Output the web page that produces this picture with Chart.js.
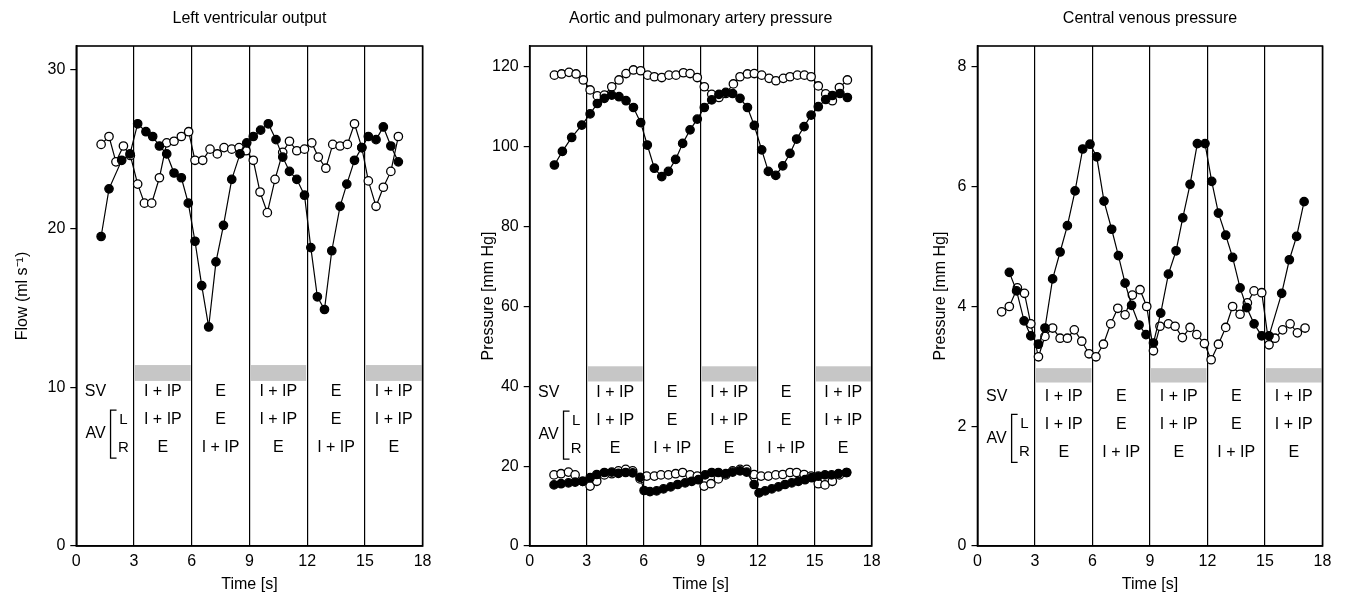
<!DOCTYPE html>
<html>
<head>
<meta charset="utf-8">
<script src="https://cdn.jsdelivr.net/npm/chart.js@4.4.0/dist/chart.umd.min.js"></script>
<style>
  body { margin: 0; background: #fff; }
  #wrap { position: relative; width: 1345px; height: 604px; }
  canvas { position: absolute; top: 0; }
</style>
</head>
<body>
<div id="wrap">
  <canvas id="lvo" width="448" height="604" style="left:0px"></canvas>
  <canvas id="art" width="448" height="604" style="left:448px"></canvas>
  <canvas id="cvp" width="449" height="604" style="left:896px"></canvas>
</div>
<script>
// ---- data ----
const timeTicks = [0, 3, 6, 9, 12, 15, 18];
const flowTicks = [0, 10, 20, 30];
const pressureTicks = [0, 20, 40, 60, 80, 100, 120];
const cvpTicks = [0, 2, 4, 6, 8];

// ventilation phases (s) and their labels
const phaseBounds = [3, 6, 9, 12, 15, 18];
const svBands = [[3, 6], [9, 12], [15, 18]];
const svRow = ['I + IP', 'E', 'I + IP', 'E', 'I + IP'];
const avLRow = ['I + IP', 'E', 'I + IP', 'E', 'I + IP'];
const avRRow = ['E', 'I + IP', 'E', 'I + IP', 'E'];

// left ventricular output (ml/s)
const flowFilledT = [1.29, 1.70, 2.36, 2.79, 3.19, 3.62, 3.97, 4.32, 4.70, 5.08, 5.46, 5.82, 6.17, 6.52, 6.88, 7.26, 7.65, 8.08, 8.51, 8.86, 9.20, 9.58, 9.98, 10.38, 10.73, 11.08, 11.46, 11.86, 12.19, 12.53, 12.90, 13.28, 13.71, 14.06, 14.46, 14.84, 15.18, 15.58, 15.96, 16.35, 16.74];
const flowFilledV = [19.5, 22.5, 24.3, 24.7, 26.6, 26.1, 25.8, 25.2, 24.7, 23.5, 23.2, 21.6, 19.2, 16.4, 13.8, 17.9, 20.2, 23.1, 24.7, 25.4, 25.8, 26.2, 26.6, 25.6, 24.5, 23.6, 23.1, 22.1, 18.8, 15.7, 14.9, 18.6, 21.4, 22.8, 24.3, 25.1, 25.8, 25.6, 26.4, 25.2, 24.2];
const flowOpenT = [1.29, 1.70, 2.06, 2.45, 2.81, 3.19, 3.54, 3.92, 4.32, 4.70, 5.08, 5.46, 5.84, 6.17, 6.57, 6.95, 7.33, 7.68, 8.08, 8.46, 8.82, 9.20, 9.55, 9.93, 10.33, 10.73, 11.08, 11.46, 11.86, 12.24, 12.58, 12.97, 13.33, 13.71, 14.09, 14.46, 14.84, 15.18, 15.58, 15.96, 16.35, 16.74];
const flowOpenV = [25.3, 25.8, 24.2, 25.2, 24.6, 22.8, 21.6, 21.6, 23.2, 25.4, 25.5, 25.8, 26.1, 24.3, 24.3, 25.0, 24.7, 25.1, 25.0, 25.1, 24.9, 24.3, 22.3, 21.0, 23.1, 24.8, 25.5, 24.9, 25.0, 25.4, 24.5, 23.8, 25.3, 25.2, 25.3, 26.6, 25.1, 23.0, 21.4, 22.6, 23.6, 25.8];

// aortic and pulmonary artery pressure (mm Hg)
const upperOpenT = [1.30, 1.68, 2.07, 2.44, 2.82, 3.18, 3.56, 3.93, 4.32, 4.70, 5.07, 5.46, 5.84, 6.21, 6.56, 6.95, 7.33, 7.70, 8.09, 8.44, 8.82, 9.19, 9.58, 9.96, 10.32, 10.72, 11.07, 11.46, 11.82, 12.21, 12.60, 12.96, 13.35, 13.70, 14.09, 14.46, 14.81, 15.19, 15.58, 15.93, 16.30, 16.72];
const upperOpenV = [117.9, 118.2, 118.6, 118.2, 116.7, 114.2, 112.7, 112.9, 115.0, 116.7, 118.3, 119.2, 119.0, 117.9, 117.5, 117.3, 117.9, 117.9, 118.5, 118.3, 117.3, 115.0, 113.1, 112.3, 113.3, 115.7, 117.5, 118.2, 118.3, 117.9, 117.1, 116.5, 117.1, 117.5, 117.9, 117.9, 117.5, 115.2, 113.2, 111.5, 114.8, 116.7];
const upperFilledT = [1.30, 1.72, 2.21, 2.74, 3.18, 3.56, 3.93, 4.32, 4.70, 5.07, 5.46, 5.84, 6.19, 6.56, 6.95, 7.30, 7.68, 8.05, 8.44, 8.82, 9.19, 9.58, 9.96, 10.32, 10.68, 11.07, 11.46, 11.82, 12.21, 12.56, 12.95, 13.32, 13.70, 14.05, 14.44, 14.81, 15.19, 15.58, 15.93, 16.33, 16.72];
const upperFilledV = [95.4, 98.8, 102.3, 105.4, 108.2, 110.8, 112.1, 112.9, 112.5, 111.5, 109.8, 106.0, 100.4, 94.6, 92.5, 93.8, 96.8, 100.8, 104.2, 106.9, 109.8, 111.7, 113.1, 113.6, 113.3, 112.1, 109.8, 105.3, 99.2, 93.8, 92.8, 95.2, 98.3, 101.9, 105.0, 107.9, 110.0, 111.8, 112.8, 113.3, 112.3];
const lowerOpenT = [1.28, 1.65, 2.04, 2.39, 2.79, 3.18, 3.53, 3.93, 4.32, 4.67, 5.05, 5.42, 5.81, 6.16, 6.56, 6.91, 7.30, 7.68, 8.05, 8.44, 8.82, 9.18, 9.54, 9.93, 10.32, 10.68, 11.07, 11.42, 11.81, 12.18, 12.56, 12.95, 13.32, 13.70, 14.05, 14.44, 14.81, 15.19, 15.54, 15.93, 16.30, 16.68];
const lowerOpenV = [17.8, 18.1, 18.5, 17.8, 16.2, 15.0, 16.2, 17.8, 18.1, 18.8, 19.2, 18.8, 16.8, 17.5, 17.5, 17.8, 17.8, 18.1, 18.4, 17.8, 17.5, 15.0, 15.6, 16.8, 17.8, 18.8, 19.2, 19.2, 17.9, 17.5, 17.5, 17.8, 17.9, 18.4, 18.4, 17.9, 17.5, 15.6, 15.3, 16.2, 17.8, 18.4];
const lowerFilledT = [1.28, 1.65, 2.04, 2.39, 2.79, 3.18, 3.53, 3.93, 4.32, 4.67, 5.05, 5.42, 5.81, 6.02, 6.33, 6.68, 7.04, 7.42, 7.79, 8.18, 8.53, 8.88, 9.23, 9.58, 9.93, 10.32, 10.68, 11.07, 11.42, 11.81, 12.07, 12.39, 12.74, 13.09, 13.44, 13.79, 14.14, 14.49, 14.84, 15.19, 15.54, 15.89, 16.25, 16.68];
const lowerFilledV = [15.3, 15.6, 15.8, 16.0, 16.2, 17.1, 17.9, 18.4, 18.5, 18.2, 18.4, 18.3, 17.2, 13.9, 13.6, 13.8, 14.3, 14.8, 15.4, 15.8, 16.2, 16.6, 17.8, 18.4, 18.4, 18.1, 18.5, 18.8, 18.5, 15.4, 13.3, 13.8, 14.3, 14.8, 15.4, 15.8, 16.2, 16.6, 17.1, 17.5, 17.8, 17.8, 18.1, 18.4];

// central venous pressure (mm Hg)
const cvpFilledT = [1.66, 2.04, 2.43, 2.78, 3.18, 3.52, 3.92, 4.31, 4.69, 5.09, 5.49, 5.87, 6.22, 6.60, 7.00, 7.35, 7.70, 8.04, 8.43, 8.79, 9.18, 9.56, 9.96, 10.36, 10.71, 11.09, 11.47, 11.87, 12.22, 12.57, 12.95, 13.31, 13.70, 14.05, 14.43, 14.83, 15.21, 15.87, 16.27, 16.65, 17.04];
const cvpFilledV = [4.57, 4.26, 3.76, 3.51, 3.37, 3.64, 4.46, 4.91, 5.35, 5.93, 6.63, 6.71, 6.50, 5.76, 5.29, 4.85, 4.39, 4.02, 3.69, 3.53, 3.39, 3.89, 4.54, 4.93, 5.48, 6.04, 6.72, 6.72, 6.09, 5.56, 5.19, 4.82, 4.31, 3.98, 3.71, 3.51, 3.51, 4.22, 4.78, 5.17, 5.75];
const cvpOpenT = [1.26, 1.66, 2.08, 2.45, 2.78, 3.18, 3.52, 3.92, 4.31, 4.69, 5.05, 5.44, 5.82, 6.18, 6.57, 6.95, 7.32, 7.70, 8.08, 8.48, 8.83, 9.18, 9.52, 9.96, 10.31, 10.69, 11.09, 11.44, 11.84, 12.19, 12.57, 12.95, 13.31, 13.70, 14.08, 14.43, 14.83, 15.21, 15.52, 15.92, 16.31, 16.69, 17.09];
const cvpOpenV = [3.91, 4.00, 4.31, 4.22, 3.71, 3.16, 3.50, 3.64, 3.47, 3.47, 3.61, 3.42, 3.21, 3.16, 3.37, 3.71, 3.97, 3.86, 4.19, 4.28, 4.00, 3.26, 3.67, 3.71, 3.67, 3.48, 3.65, 3.53, 3.38, 3.11, 3.37, 3.65, 4.00, 3.87, 4.06, 4.26, 4.23, 3.36, 3.47, 3.61, 3.71, 3.56, 3.64];

// ---- drawing ----
const FONT = '"Liberation Sans", Arial, Helvetica, sans-serif';
Chart.defaults.font.family = FONT;
Chart.defaults.font.size = 16;
Chart.defaults.color = '#000';

const pts = (t, v) => t.map((x, i) => ({ x, y: v[i] }));

function series(t, v, filled) {
  return {
    data: pts(t, v),
    borderColor: '#000',
    borderWidth: 1.2,
    pointRadius: 4.2,
    pointHoverRadius: 4.2,
    pointBorderWidth: 1.3,
    pointBorderColor: '#000',
    pointBackgroundColor: filled ? '#000' : '#fff',
    tension: 0
  };
}

// bands, phase labels, frame and panel title
const decoPlugin = {
  id: 'deco',
  beforeDatasetsDraw(chart, args, opts) {
    const { ctx, scales: { x, y } } = chart;
    ctx.save();
    ctx.fillStyle = '#c6c6c6';
    const yb0 = y.getPixelForValue(opts.band[1]);
    const yb1 = y.getPixelForValue(opts.band[0]);
    svBands.forEach(([t0, t1]) => {
      const x0 = x.getPixelForValue(t0) + 1, x1 = x.getPixelForValue(t1) - 1;
      ctx.fillRect(x0, yb0, x1 - x0, yb1 - yb0);
    });

    ctx.fillStyle = '#000';
    ctx.font = '16px ' + FONT;
    ctx.textAlign = 'center';
    ctx.textBaseline = 'middle';
    const ySV = y.getPixelForValue(opts.svRow);
    [svRow, avLRow, avRRow].forEach((labels, r) => {
      labels.forEach((txt, i) => {
        const mid = (phaseBounds[i] + phaseBounds[i + 1]) / 2;
        ctx.fillText(txt, x.getPixelForValue(mid), ySV + r * 28);
      });
    });
    ctx.fillText('SV', x.getPixelForValue(1.0), ySV);
    ctx.fillText('AV', x.getPixelForValue(1.0), ySV + 42);
    ctx.font = '15px ' + FONT;
    ctx.fillText('L', x.getPixelForValue(2.45), ySV + 28);
    ctx.fillText('R', x.getPixelForValue(2.45), ySV + 56);
    // bracket
    const bx = x.getPixelForValue(1.78);
    ctx.strokeStyle = '#000';
    ctx.lineWidth = 1.3;
    ctx.beginPath();
    ctx.moveTo(bx + 6, ySV + 18);
    ctx.lineTo(bx, ySV + 18);
    ctx.lineTo(bx, ySV + 66);
    ctx.lineTo(bx + 6, ySV + 66);
    ctx.stroke();
    ctx.restore();
  },
  afterDraw(chart, args, opts) {
    const { ctx, chartArea: a } = chart;
    ctx.save();
    ctx.strokeStyle = '#000';
    ctx.lineWidth = 1.6;
    ctx.strokeRect(a.left, a.top, a.right - a.left, a.bottom - a.top);
    ctx.fillStyle = '#000';
    ctx.font = '16px ' + FONT;
    ctx.textAlign = 'center';
    ctx.textBaseline = 'middle';
    ctx.fillText(opts.title, (a.left + a.right) / 2, 19);
    ctx.restore();
  }
};

function panel(id, p) {
  new Chart(document.getElementById(id), {
    type: 'scatter',
    data: { datasets: p.datasets.map(d => Object.assign(d, { showLine: true })) },
    options: {
      responsive: false,
      animation: false,
      devicePixelRatio: 1,
      layout: { padding: { top: 46, right: p.rightPad, left: 0, bottom: 0 } },
      plugins: {
        legend: { display: false },
        tooltip: { enabled: false },
        deco: { title: p.title, band: p.band, svRow: p.svRow }
      },
      scales: {
        x: {
          type: 'linear',
          min: 0,
          max: 18,
          afterBuildTicks: s => { s.ticks = timeTicks.map(v => ({ value: v })); },
          afterFit: s => { s.height = 58; },
          grid: { drawOnChartArea: true, drawTicks: false, color: '#000', lineWidth: 1.2 },
          border: { display: true, color: '#000', width: 1.5 },
          ticks: { padding: 6, maxRotation: 0 },
          title: { display: true, text: 'Time [s]', padding: { top: 0, bottom: 10 } }
        },
        y: {
          min: 0,
          max: p.yMax,
          afterBuildTicks: s => { s.ticks = p.yTicks.map(v => ({ value: v })); },
          afterFit: s => { s.width = p.yWidth; },
          grid: { drawOnChartArea: false, drawTicks: true, tickLength: 6, color: '#000', lineWidth: 1.2 },
          border: { display: true, color: '#000', width: 1.5 },
          ticks: { padding: 5 },
          title: { display: true, text: p.yTitle, padding: { top: p.titlePad, bottom: 0 } }
        }
      }
    },
    plugins: [decoPlugin]
  });
}

panel('lvo', {
  title: 'Left ventricular output',
  yTitle: 'Flow (ml s\u207B\u00B9)',
  yMax: 31.5, yTicks: flowTicks, yWidth: 76.3, rightPad: 25.4, titlePad: 13,
  band: [10.4, 11.4], svRow: 9.7,
  datasets: [series(flowFilledT, flowFilledV, true), series(flowOpenT, flowOpenV, false)]
});

panel('art', {
  title: 'Aortic and pulmonary artery pressure',
  yTitle: 'Pressure [mm Hg]',
  yMax: 125.2, yTicks: pressureTicks, yWidth: 81.7, rightPad: 24.3, titlePad: 31,
  band: [41.2, 45.0], svRow: 38.3,
  datasets: [
    series(upperFilledT, upperFilledV, true), series(upperOpenT, upperOpenV, false),
    series(lowerFilledT, lowerFilledV, true), series(lowerOpenT, lowerOpenV, false)
  ]
});

panel('cvp', {
  title: 'Central venous pressure',
  yTitle: 'Pressure [mm Hg]',
  yMax: 8.35, yTicks: cvpTicks, yWidth: 81.5, rightPad: 22.5, titlePad: 35,
  band: [2.73, 2.97], svRow: 2.5,
  datasets: [series(cvpFilledT, cvpFilledV, true), series(cvpOpenT, cvpOpenV, false)]
});
</script>
</body>
</html>
